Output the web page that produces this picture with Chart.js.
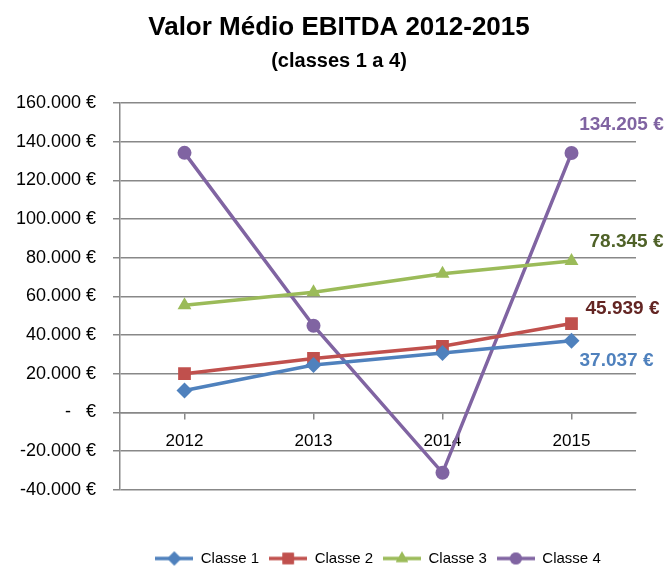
<!DOCTYPE html>
<html>
<head>
<meta charset="utf-8">
<script src="https://cdn.jsdelivr.net/npm/chart.js@4"></script>
<style>
  html, body { margin: 0; padding: 0; background: #fff; }
  #wrap { width: 667px; height: 567px; }
</style>
</head>
<body>
<div id="wrap"><canvas id="c" width="667" height="567"></canvas></div>
<script>
// data
const years = ['2012', '2013', '2014', '2015'];
const classe1 = [11300, 24500, 30700, 37037];
const classe2 = [20000, 27900, 34200, 45939];
const classe3 = [55400, 62100, 71700, 78345];
const classe4 = [134300, 44800, -31300, 134205];
const yTicks = [-40000, -20000, 0, 20000, 40000, 60000, 80000, 100000, 120000, 140000, 160000];

const seriesNames = ['Classe 1', 'Classe 2', 'Classe 3', 'Classe 4'];
const seriesColors = ['#4F81BD', '#C0504D', '#9BBB59', '#8064A2'];
const labelColors = ['#4F81BD', '#632523', '#4F6228', '#8064A2'];
const markers = ['rectRot', 'rect', 'triangle', 'circle'];
const markerSizes = [8, 9, 8, 7];
// where the end value label sits relative to the last point
const labelOffsets = [[45, 20], [51, -15], [55, -19], [50, -28]];

Chart.defaults.font.family = '"Liberation Sans", Arial, sans-serif';
Chart.defaults.color = '#000';

function euro(v) {
  if (v === 0) return '-   €';
  const s = Math.abs(v).toString().replace(/\B(?=(\d{3})+(?!\d))/g, '.');
  return (v < 0 ? '-' : '') + s + ' €';
}

// legend glyph: short line with the marker on it
function legendGlyph(i) {
  const cv = document.createElement('canvas');
  cv.width = 38; cv.height = 16;
  const g = cv.getContext('2d');
  g.strokeStyle = seriesColors[i];
  g.fillStyle = seriesColors[i];
  g.lineWidth = 3.5;
  g.beginPath(); g.moveTo(0, 8); g.lineTo(38, 8); g.stroke();
  Chart.helpers.drawPoint(g, { pointStyle: markers[i], radius: markerSizes[i] - 1, borderWidth: 0 }, 19, 8);
  g.fill();
  return cv;
}

const endLabels = {
  id: 'endLabels',
  afterLayout(chart) {
    // legend centred under the plot area, titles a bit right of centre as in the original
    const lg = chart.legend;
    lg.left = chart.chartArea.left;
    lg.right = chart.chartArea.right;
    chart.boxes.forEach(b => {
      if (b !== lg && b.options && b.options.text && b.position === 'top') {
        b.left = 0;
        b.right = 678;
      }
    });
  },
  afterDatasetsDraw(chart) {
    const ctx = chart.ctx;
    ctx.save();
    ctx.font = 'bold 19px "Liberation Sans", Arial, sans-serif';
    ctx.textAlign = 'center';
    ctx.textBaseline = 'middle';
    chart.data.datasets.forEach((ds, i) => {
      const meta = chart.getDatasetMeta(i);
      const last = ds.data.length - 1;
      const pt = meta.data[last];
      ctx.fillStyle = labelColors[i];
      ctx.fillText(euro(ds.data[last]), pt.x + labelOffsets[i][0], pt.y + labelOffsets[i][1]);
    });
    ctx.restore();
  }
};

const allSeries = [classe1, classe2, classe3, classe4];

new Chart(document.getElementById('c'), {
  type: 'line',
  data: {
    labels: years,
    datasets: allSeries.map((vals, i) => ({
      label: seriesNames[i],
      data: vals,
      borderColor: seriesColors[i],
      backgroundColor: seriesColors[i],
      borderWidth: 3.5,
      pointStyle: markers[i],
      pointRadius: markerSizes[i],
      pointBorderWidth: 0,
      tension: 0
    }))
  },
  options: {
    responsive: false,
    animation: false,
    layout: { padding: { left: 0, right: 31, top: 0, bottom: -9 } },
    plugins: {
      title: {
        display: true,
        text: 'Valor Médio EBITDA 2012-2015',
        font: { size: 26, weight: 'bold' },
        color: '#000',
        padding: { top: 12, bottom: 6 }
      },
      subtitle: {
        display: true,
        text: '(classes 1 a 4)',
        font: { size: 20, weight: 'bold' },
        color: '#000',
        padding: { top: 0, bottom: 30 }
      },
      legend: {
        position: 'bottom',
        title: { display: true, text: ' ', font: { size: 12 }, padding: { top: 37, bottom: 0 } },
        labels: {
          usePointStyle: true,
          pointStyleWidth: 38,
          padding: 10,
          font: { size: 15 },
          color: '#000',
          generateLabels(chart) {
            return chart.data.datasets.map((ds, i) => ({
              text: ds.label,
              pointStyle: legendGlyph(i),
              fillStyle: seriesColors[i],
              strokeStyle: seriesColors[i],
              lineWidth: 0,
              hidden: false,
              datasetIndex: i
            }));
          }
        }
      },
      tooltip: { enabled: false }
    },
    scales: {
      x: {
        position: { y: 0 },
        offset: true,
        grid: { drawOnChartArea: false, drawTicks: true, tickLength: 6, color: '#888', lineWidth: 1.5 },
        border: { color: '#888', width: 1.5 },
        ticks: { font: { size: 17 }, color: '#000', padding: 13 }
      },
      y: {
        min: -40000,
        max: 160000,
        afterFit(scale) { scale.width = 120; },
        afterBuildTicks(scale) { scale.ticks = yTicks.map(v => ({ value: v })); },
        grid: { color: '#888', lineWidth: 1.5, tickLength: 7 },
        border: { color: '#888', width: 1.5 },
        ticks: { font: { size: 18 }, color: '#000', padding: 17, callback: v => euro(v) }
      }
    }
  },
  plugins: [endLabels]
});
</script>
</body>
</html>
